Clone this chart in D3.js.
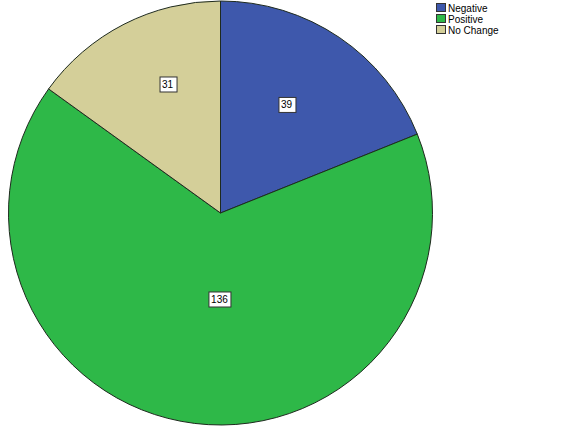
<!DOCTYPE html>
<html><head><meta charset="utf-8">
<script src="https://cdn.jsdelivr.net/npm/d3@7"></script>
<style>
html,body{margin:0;padding:0;background:#fff;}
svg{display:block;}
</style></head>
<body>
<svg id="chart" width="580" height="431"></svg>
<script>
// Data
const categories = ["Negative", "Positive", "No Change"];
const counts = [39, 136, 31];
const colors = ["#3e58ac", "#2eb848", "#d4cf99"];

// Layout (label placement: angle in degrees clockwise from top, radius in px)
const labelAngles = [31.4, 180.7, 337.6];
const labelRadii = [126.6, 86.5, 139];

const W = 580, H = 431;
const cx = 220.5, cy = 213, R = 212;
const svg = d3.select("#chart");
const g = svg.append("g").attr("transform", `translate(${cx},${cy})`);

const data = categories.map((c, i) => ({cat: c, value: counts[i], color: colors[i], la: labelAngles[i], lr: labelRadii[i]}));
const pie = d3.pie().value(d => d.value).sort(null);
const arc = d3.arc().innerRadius(0).outerRadius(R);
const arcs = pie(data);

g.selectAll("path.slice").data(arcs).join("path")
  .attr("class", "slice")
  .attr("d", arc)
  .attr("fill", d => d.data.color)
  .attr("stroke", "#1e2a1e")
  .attr("stroke-width", 1)
  .attr("stroke-linejoin", "round");

// labels
const lbl = g.selectAll("g.lbl").data(arcs).join("g").attr("class", "lbl")
  .attr("transform", d => {
    const a = d.data.la * Math.PI / 180;
    return `translate(${d.data.lr * Math.sin(a)},${-d.data.lr * Math.cos(a)})`;
  });
lbl.each(function(d) {
  const s = d3.select(this);
  const t = s.append("text")
    .attr("text-anchor", "middle")
    .attr("dy", "0.35em")
    .attr("font-family", "Arial, 'Liberation Sans', sans-serif")
    .attr("font-size", 10)
    .attr("fill", "#000")
    .text(d.data.value);
  const bb = t.node().getBBox();
  const padX = 2.5;
  s.insert("rect", "text")
    .attr("x", Math.round(bb.x - padX) + 0.5)
    .attr("y", -7.5)
    .attr("width", Math.round(bb.width + 2 * padX))
    .attr("height", 15)
    .attr("fill", "#fff")
    .attr("stroke", "#333")
    .attr("stroke-width", 1);
});

// legend
const leg = svg.append("g").attr("transform", "translate(436,3)");
const items = leg.selectAll("g").data(data).join("g")
  .attr("transform", (d, i) => `translate(0,${i * 11})`);
items.append("rect")
  .attr("x", 0.5).attr("y", 0.5)
  .attr("width", 9).attr("height", 8)
  .attr("fill", d => d.color)
  .attr("stroke", "#333")
  .attr("stroke-width", 1);
items.append("text")
  .attr("x", 12).attr("y", 8.5)
  .attr("font-family", "Arial, 'Liberation Sans', sans-serif")
  .attr("font-size", 10)
  .attr("fill", "#000")
  .text(d => d.cat);
</script>
</body></html>
